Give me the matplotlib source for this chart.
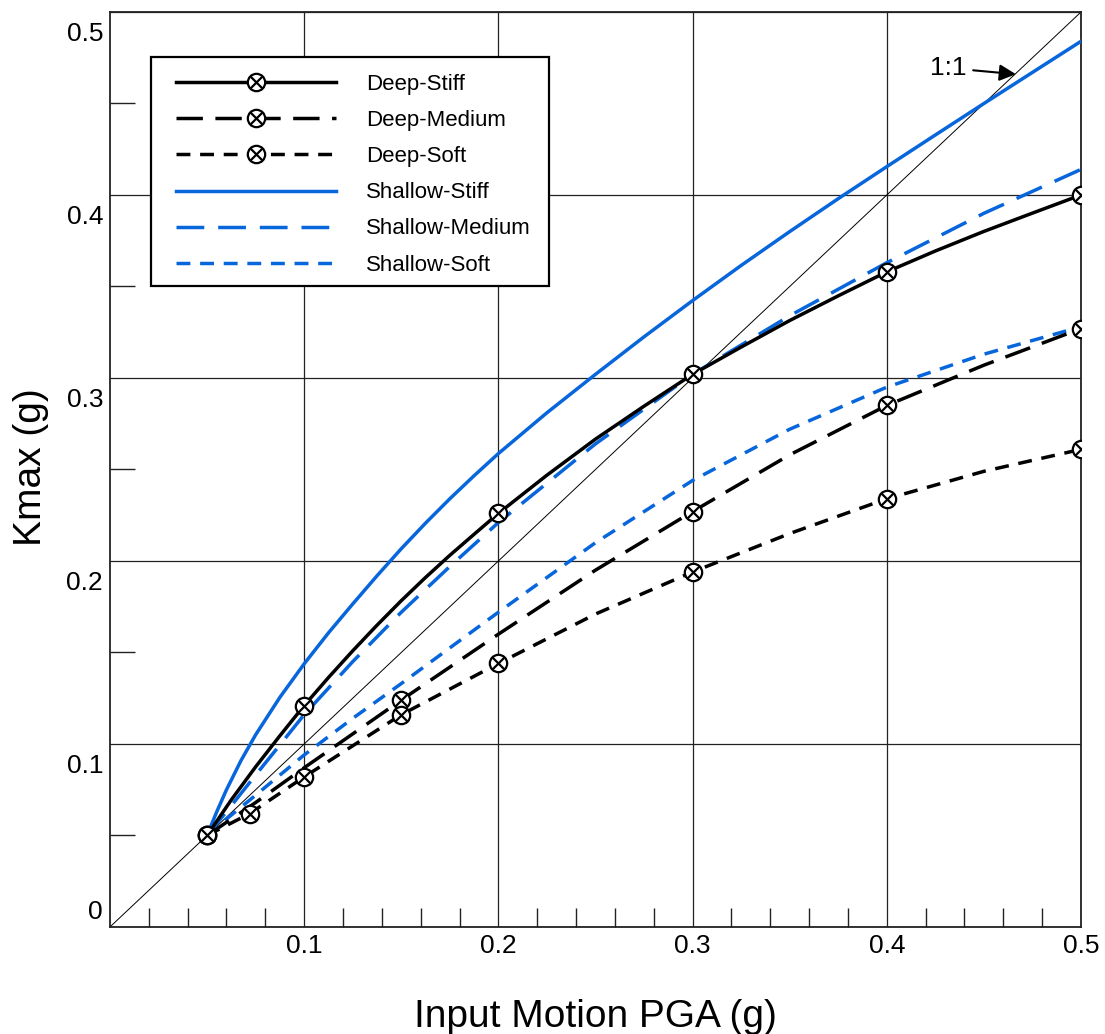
import matplotlib
matplotlib.use('Agg')
import matplotlib.pyplot as plt
from matplotlib.path import Path
from matplotlib.patches import Rectangle
from matplotlib.transforms import ScaledTranslation

plt.rcParams['font.family'] = ['Liberation Sans', 'DejaVu Sans']
plt.rcParams['lines.scale_dashes'] = False

# values (g)
x_dense = [0.05, 0.06, 0.075, 0.1, 0.125, 0.15, 0.175, 0.2, 0.25, 0.3, 0.35, 0.4, 0.45, 0.5]
shallow_medium = [0.05, 0.063, 0.083, 0.116, 0.145, 0.172, 0.197, 0.221, 0.264, 0.302, 0.334, 0.363, 0.390, 0.414]
shallow_soft = [0.05, 0.059, 0.072, 0.094, 0.114, 0.133, 0.1525, 0.172, 0.210, 0.244, 0.272, 0.295, 0.313, 0.328]

x_deep_stiff = [0.05, 0.0625, 0.075, 0.0875, 0.1, 0.1125, 0.125, 0.1375, 0.15, 0.1625, 0.175, 0.1875,
                0.2, 0.225, 0.25, 0.275, 0.3, 0.325, 0.35, 0.375, 0.4, 0.425, 0.45, 0.475, 0.5]
deep_stiff = [0.05, 0.0695, 0.0875, 0.1045, 0.121, 0.1363, 0.1509, 0.1649, 0.1783, 0.191, 0.2031, 0.2146,
              0.226, 0.2469, 0.2666, 0.2846, 0.302, 0.3169, 0.3314, 0.3449, 0.358, 0.3694, 0.3801, 0.3901, 0.400]

x_shallow_stiff = [0.05, 0.055, 0.06, 0.0675, 0.075, 0.0875, 0.1, 0.1125, 0.125, 0.1375, 0.15, 0.1625,
                   0.175, 0.1875, 0.2, 0.225, 0.25, 0.275, 0.3, 0.325, 0.35, 0.375, 0.4, 0.425, 0.45,
                   0.475, 0.5]
shallow_stiff = [0.05, 0.063, 0.075, 0.091, 0.105, 0.1255, 0.1438, 0.1607, 0.1765, 0.1919, 0.2067, 0.2207,
                 0.234, 0.2466, 0.2587, 0.281, 0.302, 0.3225, 0.3423, 0.3615, 0.380, 0.398, 0.4155, 0.4328,
                 0.450, 0.467, 0.484]

x_medium = [0.05, 0.075, 0.1, 0.15, 0.2, 0.25, 0.3, 0.35, 0.4, 0.45, 0.5]
deep_medium = [0.05, 0.068, 0.087, 0.124, 0.160, 0.195, 0.227, 0.258, 0.285, 0.307, 0.327]

x_soft = [0.05, 0.072, 0.1, 0.15, 0.2, 0.25, 0.3, 0.35, 0.4, 0.45, 0.5]
deep_soft = [0.05, 0.062, 0.082, 0.116, 0.144, 0.171, 0.194, 0.215, 0.234, 0.249, 0.261]

# where the circled-x symbols sit
marks_stiff = [0.05, 0.1, 0.2, 0.3, 0.4, 0.5]
marks_medium = [0.05, 0.15, 0.3, 0.4, 0.5]
marks_soft = [0.05, 0.072, 0.1, 0.15, 0.2, 0.3, 0.4, 0.5]

x_ticks = [0.1, 0.2, 0.3, 0.4, 0.5]
y_ticks = [0, 0.1, 0.2, 0.3, 0.4, 0.5]
x_minor = [0.02, 0.04, 0.06, 0.08, 0.12, 0.14, 0.16, 0.18, 0.22, 0.24, 0.26, 0.28,
           0.32, 0.34, 0.36, 0.38, 0.42, 0.44, 0.46, 0.48]
y_minor = [0.05, 0.15, 0.25, 0.35, 0.45]

blue = '#0866dc'

# circle with an x inside
a = 0.62
circ = Path.unit_circle()
verts = list(circ.vertices) + [(-a, -a), (a, a), (-a, a), (a, -a)]
codes = list(circ.codes) + [Path.MOVETO, Path.LINETO, Path.MOVETO, Path.LINETO]
otimes = Path(verts, codes)


def idx(xs, marks):
    return [i for i, v in enumerate(xs) if any(abs(v - m) < 1e-9 for m in marks)]


fig = plt.figure(figsize=(11.05, 10.34), dpi=100)
fig.subplots_adjust(left=0.0995, right=0.9783, bottom=0.1035, top=0.9884)
ax = fig.add_subplot(111)

ax.plot([0, 0.5], [0, 0.5], color='k', lw=0.7, zorder=2)

mk = dict(marker=otimes, ms=12.5, mfc='white', mec='k', mew=1.6)
ax.plot(x_deep_stiff, deep_stiff, color='k', lw=2.5, ls='-', markevery=idx(x_deep_stiff, marks_stiff),
        label='Deep-Stiff', zorder=4, **mk)
ax.plot(x_medium, deep_medium, color='k', lw=2.5, ls=(0, (19, 9)), markevery=idx(x_medium, marks_medium),
        label='Deep-Medium', zorder=4, **mk)
ax.plot(x_soft, deep_soft, color='k', lw=2.5, ls=(0, (10, 7)), markevery=idx(x_soft, marks_soft),
        label='Deep-Soft', zorder=4, **mk)
ax.plot(x_shallow_stiff, shallow_stiff, color=blue, lw=2.5, ls='-', label='Shallow-Stiff', zorder=3)
ax.plot(x_dense, shallow_medium, color=blue, lw=2.5, ls=(0, (20, 10)), label='Shallow-Medium', zorder=3)
ax.plot(x_dense, shallow_soft, color=blue, lw=2.5, ls=(0, (10, 7)), label='Shallow-Soft', zorder=3)

ax.set_xlim(0, 0.5)
ax.set_ylim(0, 0.5)
ax.set_xticks(x_ticks)
ax.set_xticklabels(['0.1', '0.2', '0.3', '0.4', '0.5'])
ax.set_yticks(y_ticks)
ax.set_yticklabels(['0', '0.1', '0.2', '0.3', '0.4', '0.5'])
ax.set_xticks(x_minor, minor=True)
ax.set_yticks(y_minor, minor=True)

ax.tick_params(axis='x', which='major', length=0, pad=5, labelsize=19)
ax.tick_params(axis='y', which='major', length=0, pad=5, labelsize=19)
ax.tick_params(axis='x', which='minor', direction='in', length=14, width=1.0, color='#222')
ax.tick_params(axis='y', which='minor', direction='in', length=18, width=1.0, color='#222')
ax.grid(True, which='major', color='#222', lw=0.9)
for s in ax.spines.values():
    s.set_linewidth(1.3)
    s.set_color('#222')

# y labels sit just below their grid lines
for val, tick in zip(y_ticks, ax.yaxis.get_major_ticks()):
    dy = 17 if val == 0 else -20
    tick.label1.set_transform(tick.label1.get_transform() +
                              ScaledTranslation(0, dy / 100, fig.dpi_scale_trans))

ax.annotate('1:1', xy=(0.4665, 0.466), xytext=(0.4315, 0.4694), fontsize=19,
            ha='center', va='center',
            arrowprops=dict(arrowstyle='-|>', color='k', lw=1.5, mutation_scale=25,
                            shrinkA=3, shrinkB=0))

# legend box drawn separately so the inner padding can match
ax.add_patch(Rectangle((41 / 971, (927 - 286) / 915), 398 / 971, 229 / 915,
                       transform=ax.transAxes, facecolor='white', edgecolor='k',
                       lw=1.6, zorder=4.5))
leg = ax.legend(loc='upper left', bbox_to_anchor=(66 / 971, (927 - 74) / 915), borderaxespad=0,
                fontsize=16, handlelength=7.2, handletextpad=1.35, labelspacing=0.68,
                borderpad=0, frameon=False)
leg.set_zorder(5)

fig.text(595 / 1105, 1 - 1027 / 1034, 'Input Motion PGA (g)', fontsize=28,
         ha='center', va='baseline')
fig.text(31 / 1105, 1 - 467 / 1034, 'Kmax (g)', fontsize=28, rotation=90,
         ha='center', va='center')

plt.savefig('out.png', dpi=100)
